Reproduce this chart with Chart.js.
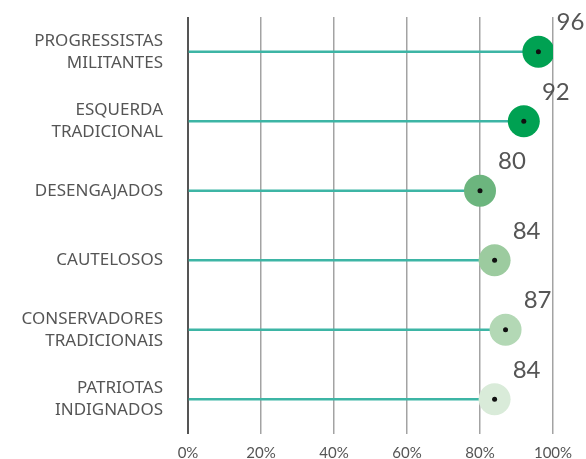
<!DOCTYPE html>
<html>
<head>
<meta charset="utf-8">
<script src="https://cdn.jsdelivr.net/npm/chart.js@4.4.0/dist/chart.umd.min.js"></script>
<style>
  html, body { margin: 0; padding: 0; background: #fff; }
  #wrap { width: 586px; height: 459px; }
</style>
</head>
<body>
<div id="wrap"><canvas id="chart"></canvas></div>
<script>
'use strict'
// segments and their share (%)
const segments = [
  ['PROGRESSISTAS', 'MILITANTES'],
  ['ESQUERDA', 'TRADICIONAL'],
  'DESENGAJADOS',
  'CAUTELOSOS',
  ['CONSERVADORES', 'TRADICIONAIS'],
  ['PATRIOTAS', 'INDIGNADOS']
];
const shares = [96, 92, 80, 84, 87, 84];
const dotColors = ['#00a152', '#00a152', '#6cb57e', '#9ccb9f', '#b3d8b5', '#d9ebd9'];
const xTicks = [0, 20, 40, 60, 80, 100];

const FONT = 'Lato, "DejaVu Sans", sans-serif';
const LABEL_FONT = '"Noto Sans", Lato, sans-serif';
const textGray = '#555';

// number above-right of each circle
const valueLabels = {
  id: 'valueLabels',
  afterDatasetsDraw(chart) {
    const meta = chart.getDatasetMeta(1);
    const ctx = chart.ctx;
    ctx.save();
    ctx.font = '24px ' + FONT;
    ctx.fillStyle = textGray;
    ctx.textAlign = 'center';
    ctx.textBaseline = 'middle';
    meta.data.forEach((pt, i) => {
      ctx.fillText(String(shares[i]), pt.x + 32, pt.y - 29);
    });
    ctx.restore();
  }
};

new Chart(document.getElementById('chart'), {
  type: 'bar',
  data: {
    labels: segments,
    datasets: [
      {
        type: 'bar',
        data: shares,
        backgroundColor: '#3db5a5',
        barThickness: 2,
        order: 2
      },
      {
        type: 'line',
        data: shares,
        showLine: false,
        pointRadius: 16,
        pointHoverRadius: 16,
        pointBorderWidth: 0,
        pointBackgroundColor: dotColors,
        order: 1
      },
      {
        type: 'line',
        data: shares,
        showLine: false,
        pointRadius: 2.5,
        pointHoverRadius: 2.5,
        pointBorderWidth: 0,
        pointBackgroundColor: '#111',
        order: 0
      }
    ]
  },
  options: {
    indexAxis: 'y',
    responsive: true,
    maintainAspectRatio: false,
    animation: false,
    layout: { padding: { top: 17, right: 33, left: 0, bottom: 0 } },
    plugins: { legend: { display: false }, tooltip: { enabled: false } },
    scales: {
      x: {
        min: 0,
        max: 100,
        afterBuildTicks(scale) {
          scale.ticks = xTicks.map(v => ({ value: v }));
        },
        afterFit(scale) {
          scale.height = 25;
          scale.paddingLeft = 0;
          scale.paddingRight = 0;
        },
        border: { display: false },
        grid: {
          drawTicks: false,
          color: c => c.tick && c.tick.value === 0 ? '#555' : '#a3a3a3',
          lineWidth: c => c.tick && c.tick.value === 0 ? 2 : 1.5
        },
        ticks: {
          padding: 10,
          color: textGray,
          font: { family: FONT, size: 15 },
          callback: v => v + '%'
        }
      },
      y: {
        afterFit(scale) {
          scale.width = 188;
          scale.paddingTop = 0;
          scale.paddingBottom = 0;
        },
        border: { display: false },
        grid: { display: false, drawTicks: false },
        ticks: {
          padding: 25,
          color: textGray,
          font: { family: LABEL_FONT, size: 17, lineHeight: 1.3 }
        }
      }
    }
  },
  plugins: [valueLabels]
});
</script>
</body>
</html>
